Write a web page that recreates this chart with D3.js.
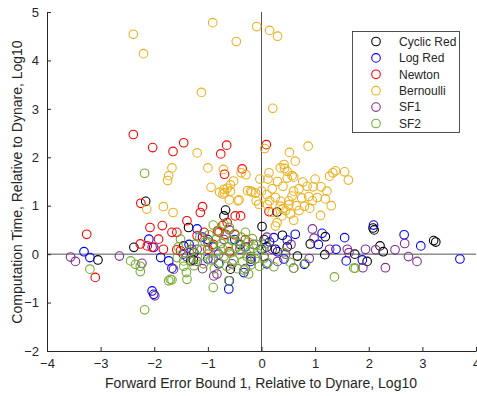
<!DOCTYPE html>
<html>
<head>
<meta charset="utf-8">
<script src="https://cdn.jsdelivr.net/npm/d3@7"></script>
<style>
  body { margin: 0; background: #fff; }
  text { font-family: "Liberation Sans", Arial, sans-serif; fill: #262626; }
</style>
</head>
<body>
<div id="chart"></div>
<script>
// series names, legend order
var seriesNames = ["Cyclic Red", "Log Red", "Newton", "Bernoulli", "SF1", "SF2"];
var seriesColors = ["#000000", "#0000ff", "#ff0000", "#EDB120", "#7E2F8E", "#77AC30"];

var xTicks = [-4, -3, -2, -1, 0, 1, 2, 3, 4];
var yTicks = [-2, -1, 0, 1, 2, 3, 4, 5];

// [forward error bound, computation time] log10 relative to dynare
var cyclicRed = [
  [-2.16, 1.09], [-2.38, 0.14], [-3.05, -0.12], [-1.36, 0.55], [-0.67, 0.91], [-0.70, 0.79],
  [-1.27, -0.12], [-0.58, -0.31], [0.29, 0.87], [0.01, 0.57], [0.39, 0.39], [0.67, -0.04],
  [0.26, 0.10], [0.48, 0.15], [2.08, 0.54], [2.10, 0.50], [2.21, 0.17], [2.27, 0.05],
  [1.97, -0.15], [1.74, 0.00], [1.19, 0.36], [1.18, -0.01], [0.91, 0.21], [3.21, 0.28],
  [3.25, 0.25], [-1.45, 0.17], [-1.32, -0.14], [-1.26, 0.03], [-1.00, 0.30], [-0.40, 0.20],
  [0.10, 0.15], [-0.20, -0.10], [0.05, 0.30]
];
var logRed = [
  [-3.31, 0.05], [-3.20, -0.07], [-2.10, 0.31], [-2.01, 0.14], [-1.88, -0.07], [-1.73, -0.14],
  [-1.67, -0.29], [-2.04, -0.76], [-2.01, -0.83], [-1.20, 0.52], [-0.61, -0.72], [-0.60, -0.55],
  [2.09, 0.60], [2.66, 0.40], [2.97, 0.17], [3.70, -0.10], [1.55, 0.34], [1.58, -0.14],
  [1.88, -0.12], [1.39, 0.10], [1.13, 0.43], [1.06, 0.20], [0.63, 0.41], [0.48, 0.29],
  [0.23, 0.34], [-0.33, -0.38], [0.42, -0.10], [0.80, -0.21], [-1.46, 0.00], [-1.35, 0.20],
  [-1.10, 0.35], [-0.90, 0.15], [-0.50, 0.30], [-0.30, 0.15], [0.00, 0.10], [0.15, 0.25],
  [-0.80, -0.20], [-0.20, -0.15], [0.10, -0.20], [-1.00, -0.10], [0.30, 0.05]
];
var newton = [
  [-2.39, 2.47], [-2.03, 2.20], [-1.65, 2.12], [-1.45, 2.30], [-0.76, 2.07], [-0.65, 2.25],
  [-0.69, 1.65], [-0.36, 1.76], [0.09, 2.26], [-0.49, 0.79], [-0.39, 0.79], [0.14, 0.88],
  [-3.26, 0.41], [-3.10, -0.48], [-2.25, 1.05], [-2.08, 0.55], [-1.92, 0.31], [-1.85, 0.59],
  [-1.67, 0.45], [-1.58, 0.45], [-1.39, 0.69], [-1.10, 0.98], [-1.14, 0.86], [-2.13, 0.17],
  [-2.04, 0.14], [-1.83, 0.10], [-1.58, 0.09], [-1.51, 0.07], [-2.26, 0.21], [-1.20, 0.38],
  [-1.07, 0.45], [-0.82, 0.48], [-0.73, 0.59], [-0.79, 0.45], [-0.64, 0.65], [-0.90, 0.20],
  [-0.50, 0.40], [-0.30, 0.30], [-1.00, 0.10], [-0.60, 0.05], [-0.67, 0.41]
];
var bernoulli = [
  [-2.39, 4.54], [-2.20, 4.14], [-0.91, 4.78], [-0.47, 4.39], [-0.09, 4.70], [0.15, 4.62],
  [0.30, 4.50], [-1.12, 3.34], [0.21, 3.01], [0.06, 2.18], [0.87, 2.23], [0.52, 2.10],
  [0.63, 1.92], [0.42, 1.85], [0.35, 1.78], [0.43, 1.77], [0.48, 1.71], [0.14, 1.68],
  [-0.03, 1.55], [0.12, 1.55], [0.48, 1.57], [0.57, 1.62], [0.60, 1.59], [0.77, 1.49],
  [0.96, 1.39], [1.11, 1.39], [1.22, 1.30], [1.27, 1.61], [1.33, 1.68], [1.38, 1.72],
  [1.55, 1.70], [1.62, 1.53], [-0.29, 1.64], [-0.38, 1.68], [-0.52, 1.51], [-0.58, 1.43],
  [-0.64, 1.36], [-1.20, 2.09], [-1.67, 1.78], [-1.73, 1.62], [-1.75, 1.52], [-1.00, 1.78],
  [-0.71, 1.75], [-0.94, 1.38], [-0.70, 1.34], [-0.69, 1.27], [-0.58, 1.30], [-0.44, 1.10],
  [0.10, 1.23], [0.26, 1.17], [0.36, 1.09], [0.51, 1.10], [0.57, 1.20], [0.75, 1.16],
  [0.88, 1.19], [1.04, 1.17], [1.19, 1.14], [0.11, 1.02], [0.35, 0.99], [0.51, 1.02],
  [0.80, 0.99], [0.40, 0.94], [0.65, 1.00], [-0.05, 1.03], [0.20, 0.86], [0.29, 0.65],
  [0.38, 0.79], [0.45, 0.90], [0.54, 0.83], [0.26, 0.58], [0.60, 0.70], [0.70, 0.90],
  [0.90, 0.95], [1.10, 0.80], [1.30, 1.00], [-0.20, 1.30], [-0.10, 1.10], [0.00, 1.30],
  [0.20, 1.35], [0.30, 1.50], [0.70, 1.35], [1.00, 1.55], [0.85, 1.40], [0.40, 1.40],
  [0.95, 1.10], [0.15, 1.10], [0.60, 1.30], [-2.14, 0.93], [-1.83, 0.98], [-1.65, 0.86],
  [-0.78, 1.28], [-0.72, 1.24], [-0.60, 1.12], [-0.42, 1.12], [-0.26, 1.31], [-0.18, 1.28],
  [-0.11, 1.26]
];
var sf1 = [
  [-3.56, -0.06], [-3.47, -0.15], [-2.65, -0.04], [-2.23, -0.19], [-1.64, -0.31], [-1.99, -0.86],
  [-0.89, -0.45], [-0.83, -0.41], [0.95, 0.52], [0.98, 0.33], [1.27, 0.10], [1.60, 0.10],
  [1.94, 0.10], [2.13, 0.09], [2.49, 0.09], [2.67, 0.22], [2.74, -0.05], [2.90, -0.15],
  [2.31, -0.28], [1.89, -0.28], [1.63, 0.03], [0.89, -0.09], [0.60, -0.29], [-1.30, 0.10],
  [-1.20, -0.15], [-1.00, 0.25], [-0.90, -0.10], [-0.70, 0.30], [-0.55, -0.20], [-0.40, 0.10],
  [-0.30, -0.30], [-0.15, 0.20], [0.05, -0.05], [0.20, 0.10], [0.30, -0.15], [-1.10, -0.30],
  [-0.60, 0.50], [-0.80, 0.00], [0.45, 0.00], [0.10, 0.35], [0.55, 0.20], [-0.20, -0.05],
  [-1.40, -0.05], [-1.20, 0.10]
];
var sf2 = [
  [-2.18, -1.15], [-2.18, 1.67], [-3.20, -0.31], [-2.44, -0.14], [-2.35, -0.21], [-2.26, -0.36],
  [-2.26, -0.25], [-1.73, -0.55], [-1.67, -0.53], [-1.40, -0.38], [-1.39, -0.52], [-0.90, -0.69],
  [-0.61, -0.55], [1.36, -0.47], [1.72, -0.29], [1.75, -0.29], [0.82, -0.19], [0.54, -0.17],
  [0.60, -0.29], [0.42, 0.03], [0.23, -0.26], [-0.24, -0.41], [-0.33, -0.33],
  [-1.35, 0.05], [-1.30, -0.15], [-1.25, 0.20], [-1.20, -0.05], [-1.15, 0.35], [-1.12, 0.10],
  [-1.08, -0.20], [-1.05, 0.25], [-1.00, 0.00], [-0.98, 0.40], [-0.95, -0.12], [-0.92, 0.18],
  [-0.88, -0.30], [-0.85, 0.30], [-0.83, 0.05], [-0.80, 0.48], [-0.78, -0.18], [-0.75, 0.22],
  [-0.72, 0.10], [-0.70, -0.05], [-0.68, 0.38], [-0.65, -0.25], [-0.62, 0.15], [-0.60, 0.55],
  [-0.58, 0.02], [-0.55, 0.28], [-0.52, -0.12], [-0.50, 0.42], [-0.48, 0.12], [-0.45, -0.30],
  [-0.42, 0.22], [-0.40, 0.00], [-0.38, 0.35], [-0.35, -0.15], [-0.32, 0.15], [-0.30, 0.45],
  [-0.27, -0.05], [-0.25, 0.25], [-0.22, 0.05], [-0.20, -0.22], [-0.17, 0.32], [-0.15, 0.12],
  [-0.12, -0.10], [-0.10, 0.20], [-0.07, 0.02], [-0.04, -0.25], [0.00, 0.12], [0.05, -0.08],
  [0.08, 0.22], [0.12, -0.18], [-1.45, -0.25], [-1.55, 0.15], [-0.90, 0.60], [-0.70, 0.62],
  [-1.51, 0.31], [-1.57, -0.07], [-1.45, -0.14], [-1.70, -0.52], [-1.26, -0.24]
];
var allSeries = [cyclicRed, logRed, newton, bernoulli, sf1, sf2];

var width = 477, height = 396;
var x = d3.scaleLinear().domain([-4, 4]).range([47, 476]);
var y = d3.scaleLinear().domain([-2, 5]).range([351, 12]);

var svg = d3.select("#chart").append("svg")
    .attr("width", width)
    .attr("height", height);

// zero lines
svg.append("line")
    .attr("x1", x(0)).attr("x2", x(0))
    .attr("y1", y(5)).attr("y2", y(-2))
    .attr("stroke", "#555").attr("stroke-width", 1);
svg.append("line")
    .attr("x1", x(-4)).attr("x2", x(4))
    .attr("y1", y(0)).attr("y2", y(0))
    .attr("stroke", "#555").attr("stroke-width", 1);

// points
allSeries.forEach(function(data, i) {
    svg.append("g").selectAll("circle").data(data).enter().append("circle")
        .attr("cx", function(d) { return x(d[0]); })
        .attr("cy", function(d) { return y(d[1]); })
        .attr("r", 4.3)
        .attr("fill", "none")
        .attr("stroke", seriesColors[i])
        .attr("stroke-width", 1.1);
});

// axes (ticks inside, matlab style)
var xAxis = svg.append("g")
    .attr("transform", "translate(0," + y(-2) + ")")
    .call(d3.axisBottom(x).tickValues(xTicks).tickFormat(d3.format("d"))
        .tickSizeInner(-4).tickSizeOuter(0).tickPadding(8));
var yAxis = svg.append("g")
    .attr("transform", "translate(" + x(-4) + ",0)")
    .call(d3.axisLeft(y).tickValues(yTicks).tickFormat(d3.format("d"))
        .tickSizeInner(-4).tickSizeOuter(0).tickPadding(8));

[xAxis, yAxis].forEach(function(ax) {
    ax.select(".domain").attr("stroke", "#262626");
    ax.selectAll(".tick line").attr("stroke", "#262626");
    ax.selectAll(".tick text")
        .style("font-family", "'Liberation Sans', Arial, sans-serif")
        .style("font-size", "13px")
        .attr("fill", "#262626");
});

svg.append("text")
    .attr("x", 261).attr("y", 388)
    .attr("text-anchor", "middle")
    .style("font-size", "14px")
    .text("Forward Error Bound 1, Relative to Dynare, Log10");

svg.append("text")
    .attr("transform", "translate(22,182) rotate(-90)")
    .attr("text-anchor", "middle")
    .style("font-size", "14px")
    .text("Computation Time, Relative to Dynare, Log10");

// legend
var legend = svg.append("g");
legend.append("rect")
    .attr("x", 352.5).attr("y", 31.5)
    .attr("width", 107).attr("height", 101)
    .attr("fill", "#fff").attr("stroke", "#262626").attr("stroke-width", 0.8);
seriesNames.forEach(function(name, i) {
    var ly = 41.5 + i * 16.4;
    legend.append("circle")
        .attr("cx", 376).attr("cy", ly).attr("r", 4.3)
        .attr("fill", "none").attr("stroke", seriesColors[i]).attr("stroke-width", 1.1);
    legend.append("text")
        .attr("x", 399).attr("y", ly + 4.3)
        .style("font-size", "12px")
        .text(name);
});
</script>
</body>
</html>
